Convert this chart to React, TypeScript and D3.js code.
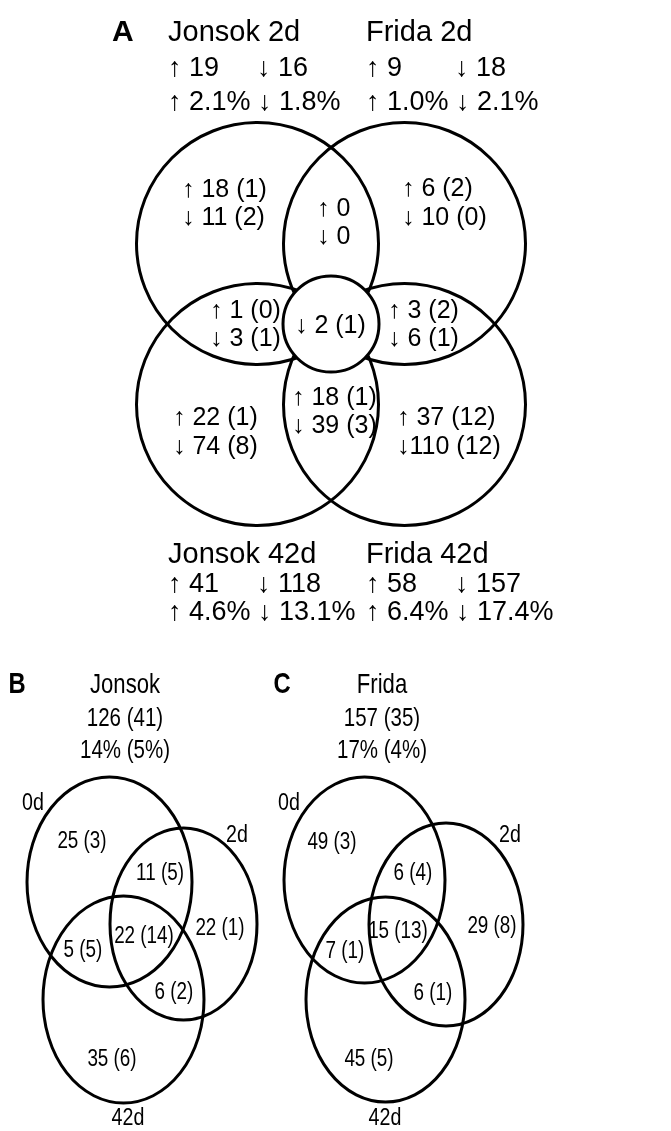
import React from 'react'
import * as d3 from 'd3'

const W = 671
const H = 1131

// ---- Panel A: four-way comparison (up / down regulated)
const setNamesA = ['Jonsok 2d', 'Frida 2d', 'Jonsok 42d', 'Frida 42d']
const totalUp = [19, 9, 41, 58]
const totalDown = [16, 18, 118, 157]
const pctUp = ['2.1', '1.0', '4.6', '6.4']
const pctDown = ['1.8', '2.1', '13.1', '17.4']

// regions: J2 only, F2 only, J2∩F2, J2∩J42, all four, F2∩F42, J42 only, J42∩F42, F42 only
const regionUp = [18, 6, 0, 1, null, 3, 22, 18, 37]
const regionUpShared = [1, 2, null, 0, null, 2, 1, 1, 12]
const regionDown = [11, 10, 0, 3, 2, 6, 74, 39, 110]
const regionDownShared = [2, 0, null, 1, 1, 1, 8, 3, 12]

// ---- Panels B and C: three time points per cultivar
const timepoints = ['0d', '2d', '42d']
const cultivars = ['Jonsok', 'Frida']
const cultivarTotal = [126, 157]
const cultivarShared = [41, 35]
const cultivarPct = [14, 17]
const cultivarSharedPct = [5, 4]
// regions: 0d only, 0d∩2d, 2d only, 0d∩42d, all, 2d∩42d, 42d only
const jonsokCounts = [25, 11, 22, 5, 22, 6, 35]
const jonsokShared = [3, 5, 1, 5, 14, 2, 6]
const fridaCounts = [49, 6, 29, 7, 15, 6, 45]
const fridaShared = [3, 4, 8, 1, 13, 1, 5]

const SANS = 'Liberation Sans, Arial, Helvetica, sans-serif'
const NARROW_X = 0.82 // condensed look of panels B/C

// layout of panel A in unit space
const xA = d3.scaleLinear().domain([-1, 1]).range([257.5, 404.5])
const yA = d3.scaleLinear().domain([-1, 1]).range([243.5, 404.5])
const circlesA = [[-1, -1], [1, -1], [-1, 1], [1, 1]]
const labelPosA = [
  [-2.027, -1.578], [0.966, -1.59], [-0.19, -1.342], [-1.646, -0.075], [-0.49, 0.112],
  [0.776, -0.075], [-2.15, 1.255], [-0.531, 1.006], [0.898, 1.255],
]
const headerCols = [168, 366]
const downOffset = 89

const fmt = (arrow: string, n: number | null, s: number | null) =>
  n == null ? null : `${arrow}${n >= 100 ? '' : ' '}${n}${s == null ? '' : ` (${s})`}`

// ellipses of panels B and C (pixel layout)
const ellipsesBC = [
  [[109.5, 882, 82.5, 105], [183.5, 924, 73.5, 96], [123.5, 999.5, 80.5, 103.5]],
  [[364.5, 880, 80.5, 103], [446, 924.5, 77, 101.5], [385.5, 999.5, 79.5, 102.5]],
]
const setLabelPosBC = [
  [[33, 810], [237, 842], [128, 1125]],
  [[289, 810], [510, 842], [385, 1125]],
]
const regionPosBC = [
  [[82, 848], [160, 880], [220, 935], [83, 957], [144, 943], [174, 999], [112, 1066]],
  [[332, 849], [413, 880], [492, 933], [345, 958], [398, 938], [433, 1000], [369, 1066]],
]
const titleX = [125, 382]
const letterX = [17, 282]

const Narrow = ({ x, y, size, bold, children }: any) => (
  <text
    transform={`translate(${x},${y}) scale(${NARROW_X},1)`}
    fontSize={size}
    fontWeight={bold ? 'bold' : undefined}
    textAnchor="middle"
  >
    {children}
  </text>
)

export default function App() {
  const header = (i: number, top: boolean) => {
    const x = headerCols[i % 2]
    const y0 = top ? 41 : 563
    const dy = top ? 34.5 : 28.5
    return (
      <g key={`h${i}`} fontFamily={SANS} fontSize={27}>
        <text x={x} y={y0} fontSize={29}>{setNamesA[i]}</text>
        <text x={x} y={y0 + dy}>↑ {totalUp[i]}</text>
        <text x={x + downOffset} y={y0 + dy}>↓ {totalDown[i]}</text>
        <text x={x} y={y0 + 2 * dy}>{`↑ ${pctUp[i]}% ↓ ${pctDown[i]}%`}</text>
      </g>
    )
  }

  return (
    <svg width={W} height={H} style={{ position: 'absolute', left: 0, top: 0, filter: 'grayscale(1)' }}>
      <rect width={W} height={H} fill="#fff" />

      {/* Panel A */}
      <text x={112} y={41} fontFamily={SANS} fontWeight="bold" fontSize={30}>A</text>
      {[0, 1].map(i => header(i, true))}
      {[2, 3].map(i => header(i, false))}
      <g fill="none" stroke="#000" strokeWidth={3}>
        {circlesA.map(([cx, cy], i) => (
          <circle key={i} cx={xA(cx)} cy={yA(cy)} r={121} />
        ))}
        <circle cx={xA(0)} cy={yA(0)} r={48} fill="#fff" />
      </g>
      <g fontFamily={SANS} fontSize={25}>
        {labelPosA.map(([ux, uy], i) => {
          const lines = [fmt('↑', regionUp[i], regionUpShared[i]), fmt('↓', regionDown[i], regionDownShared[i])]
            .filter(Boolean)
          return lines.map((t, k) => (
            <text key={`${i}-${k}`} x={xA(ux)} y={yA(uy) + k * 28.5}>{t}</text>
          ))
        })}
      </g>

      {/* Panels B and C */}
      {cultivars.map((c, p) => {
        const counts = p === 0 ? jonsokCounts : fridaCounts
        const shared = p === 0 ? jonsokShared : fridaShared
        return (
          <g key={c} fontFamily={SANS}>
            <Narrow x={letterX[p]} y={693} size={29} bold>{p === 0 ? 'B' : 'C'}</Narrow>
            <Narrow x={titleX[p]} y={693} size={27}>{c}</Narrow>
            <Narrow x={titleX[p]} y={726} size={25}>{`${cultivarTotal[p]} (${cultivarShared[p]})`}</Narrow>
            <Narrow x={titleX[p]} y={758} size={25}>{`${cultivarPct[p]}% (${cultivarSharedPct[p]}%)`}</Narrow>
            <g fill="none" stroke="#000" strokeWidth={3}>
              {ellipsesBC[p].map(([cx, cy, rx, ry], i) => (
                <ellipse key={i} cx={cx} cy={cy} rx={rx} ry={ry} />
              ))}
            </g>
            {timepoints.map((t, i) => (
              <Narrow key={t} x={setLabelPosBC[p][i][0]} y={setLabelPosBC[p][i][1]} size={24}>{t}</Narrow>
            ))}
            {counts.map((n, i) => (
              <Narrow key={i} x={regionPosBC[p][i][0]} y={regionPosBC[p][i][1]} size={23}>
                {`${n} (${shared[i]})`}
              </Narrow>
            ))}
          </g>
        )
      })}
    </svg>
  )
}
